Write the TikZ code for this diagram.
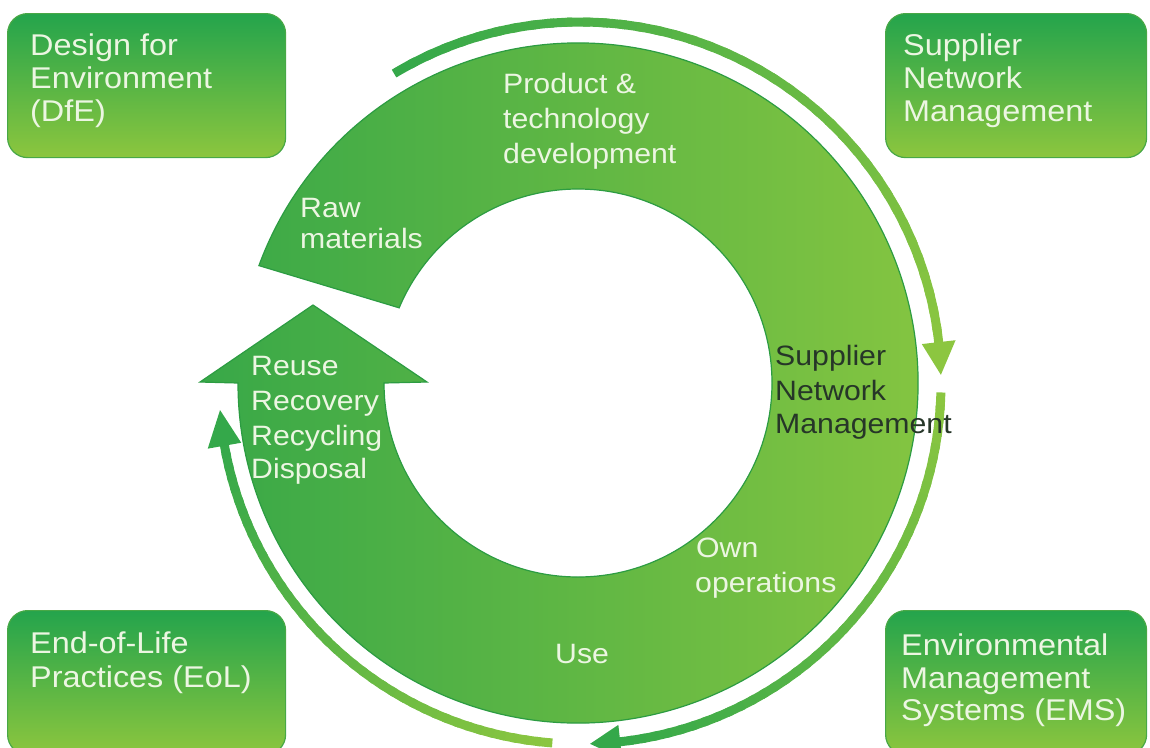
\documentclass[tikz,border=0pt]{standalone}
\usepackage{fontspec}
\setmainfont{Liberation Sans}[FakeStretch=1.08]
\usetikzlibrary{calc}

\definecolor{ringdark}{RGB}{56,168,72}
\definecolor{ringlight}{RGB}{136,198,64}
\definecolor{ringedge}{RGB}{44,156,66}
\definecolor{boxtop}{RGB}{36,164,76}
\definecolor{boxbot}{RGB}{140,198,62}
\definecolor{boxedge}{RGB}{72,168,70}
\definecolor{txtlight}{RGB}{236,246,226}
\definecolor{txtdark}{RGB}{38,54,40}
\definecolor{arrdark}{RGB}{52,168,74}
\definecolor{arrlight}{RGB}{140,198,64}

% thin cycle arrow: shaft drawn in short pieces so its colour runs from #3 to #4
% #1 start angle, #2 angle where the head begins, #3/#4 colours, #5 tip angle
\newcommand\cyclearrow[5]{%
  \foreach \k in {1,...,40}{%
    \pgfmathsetmacro\ta{#1+(#2-#1)*(\k-1)/40}%
    \pgfmathsetmacro\tb{#1+(#2-#1)*(\k+0.4)/40}%
    \pgfmathtruncatemacro\pc{100*(\k-0.5)/40}%
    \draw[line width=9pt, color=#4!\pc!#3]
      ($(A)+(\ta:361)$) arc[start angle=\ta, end angle=\tb, radius=361];
  }%
  \fill[#4] ($(A)+(#2:378)$) -- ($(A)+(#5:361)$) -- ($(A)+(#2:344)$) -- cycle;
}

\begin{document}
\begin{tikzpicture}[x=1pt,y=1pt,
  boxtxt/.style={anchor=base west, inner sep=0pt, text=txtlight,
    font=\fontsize{30}{33}\selectfont},
  ringtxt/.style={anchor=base west, inner sep=0pt, text=txtlight,
    font=\fontsize{28}{34}\selectfont},
  darktxt/.style={ringtxt, text=txtdark},
  cornerbox/.style={anchor=north west, top color=boxtop, bottom color=boxbot,
    draw=boxedge, line width=1.2pt, rounded corners=20pt, minimum height=144pt}
]
\useasboundingbox (0,0) rectangle (1150,-747);
\clip (0,0) rectangle (1150,-747);

% corner boxes
\node[cornerbox, minimum width=278pt] (dfe) at (7,-13) {};
\node[cornerbox, minimum width=261pt] (snm) at (885,-13) {};
\node[cornerbox, minimum width=278pt] (eol) at (7,-610) {};
\node[cornerbox, minimum width=261pt] (ems) at (885,-610) {};

% main ring arrow
\coordinate (C) at (578,-383);
\coordinate (A) at (580,-383);
\shade[left color=ringdark, right color=ringlight, draw=ringedge, line width=1.2pt]
  ($(C)+(159.8:340)$) arc[start angle=159.8, end angle=-180, radius=340]
  -- (200,-382) -- (313,-305) -- (427,-382)
  -- ($(C)+(180:194)$) arc[start angle=-180, end angle=157.2, radius=194]
  -- cycle;

% outer cycle arrows
\cyclearrow{121}{6.5}{arrdark}{arrlight}{1.3}
\cyclearrow{-1.5}{-83.6}{arrlight}{arrdark}{-88.4}
\cyclearrow{-94.4}{-170}{arrlight}{arrdark}{-175.7}

% box texts
\node[boxtxt] (dfe1) at (30,-55) {Design for};
\node[boxtxt] (dfe2) at (30,-88) {Environment};
\node[boxtxt] (dfe3) at (30,-121) {(DfE)};
\node[boxtxt] (snm1) at (903,-55) {Supplier};
\node[boxtxt] (snm2) at (903,-88) {Network};
\node[boxtxt] (snm3) at (903,-121) {Management};
\node[boxtxt] (eol1) at (30,-653) {End-of-Life};
\node[boxtxt] (eol2) at (30,-687) {Practices (EoL)};
\node[boxtxt] (ems1) at (901,-655) {Environmental};
\node[boxtxt] (ems2) at (901,-688) {Management};
\node[boxtxt] (ems3) at (901,-720) {Systems (EMS)};

% ring texts
\node[ringtxt] (raw1) at (300,-217) {Raw};
\node[ringtxt] (raw2) at (300,-248) {materials};
\node[ringtxt] (ptd1) at (503,-93) {Product \&};
\node[ringtxt] (ptd2) at (503,-128) {technology};
\node[ringtxt] (ptd3) at (503,-163) {development};
\node[darktxt] (sup1) at (775,-365) {Supplier};
\node[darktxt] (sup2) at (775,-400) {Network};
\node[darktxt] (sup3) at (775,-433) {Management};
\node[ringtxt] (own1) at (696,-557) {Own};
\node[ringtxt] (own2) at (695,-592) {operations};
\node[ringtxt] (use) at (555,-663) {Use};
\node[ringtxt] (eolr1) at (251,-375) {Reuse};
\node[ringtxt] (eolr2) at (251,-410) {Recovery};
\node[ringtxt] (eolr3) at (251,-445) {Recycling};
\node[ringtxt] (eolr4) at (251,-478) {Disposal};
\end{tikzpicture}
\end{document}
